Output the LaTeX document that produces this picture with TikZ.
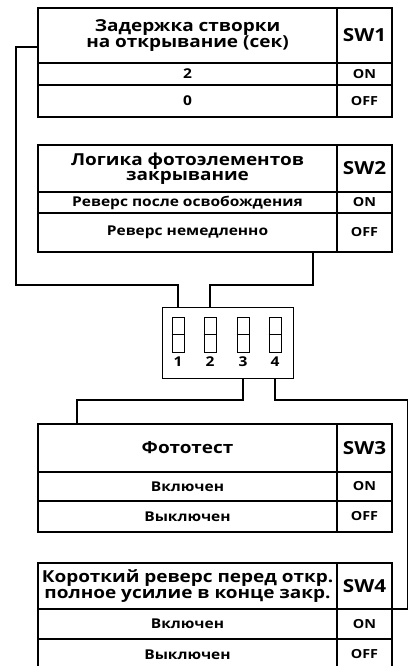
\documentclass[tikz,border=0pt]{standalone}
\usepackage{fontspec}
\setmainfont{Open Sans}[FakeStretch=1.15]
\usetikzlibrary{calc, positioning}

\begin{document}
\begin{tikzpicture}[
    x=1pt, y=-1pt,
    wire/.style={line width=1.3pt},
    cell/.style={draw, line width=1.3pt, minimum width=299pt, inner sep=0pt, outer sep=0pt, align=center, font=\bfseries\fontsize{13.5}{14}\selectfont},
    swcell/.style={draw, line width=1.3pt, minimum width=55pt, inner sep=0pt, outer sep=0pt, font=\bfseries\fontsize{12.5}{13}\selectfont},
    head/.style={cell, font=\bfseries\fontsize{16.5}{15.5}\selectfont},
    swhead/.style={swcell, font=\bfseries\fontsize{18}{18}\selectfont},
    key/.style={draw, line width=1pt, minimum width=12pt, minimum height=35pt, inner sep=0pt}
]
    \path[use as bounding box, clip] (0,0) rectangle (409,666);

    % SW1 table
    \node[head, minimum height=55pt, anchor=north west] (t1h) at (38,8) {Задержка створки\\на открывание (сек)};
    \node[swhead, minimum height=55pt, right=0pt of t1h] (t1s) {SW1};
    \node[cell, minimum height=22pt, below=0pt of t1h, font=\bfseries\fontsize{13.5}{14}\selectfont] (t1a) {2};
    \node[swcell, minimum height=22pt, right=0pt of t1a] (t1on) {ON};
    \node[cell, minimum height=32pt, below=0pt of t1a, font=\bfseries\fontsize{13.5}{14}\selectfont] (t1b) {0};
    \node[swcell, minimum height=32pt, right=0pt of t1b] (t1off) {OFF};

    % SW2 table
    \node[head, minimum height=47pt, anchor=north west] (t2h) at (38,145) {Логика фотоэлементов\\закрывание};
    \node[swhead, minimum height=47pt, right=0pt of t2h] (t2s) {SW2};
    \node[cell, minimum height=21pt, below=0pt of t2h] (t2a) {Реверс после освобождения};
    \node[swcell, minimum height=21pt, right=0pt of t2a] (t2on) {ON};
    \node[cell, minimum height=39pt, below=0pt of t2a] (t2b) {Реверс немедленно};
    \node[swcell, minimum height=39pt, right=0pt of t2b] (t2off) {OFF};

    % DIP switch block
    \node[draw, line width=1.3pt, minimum width=131pt, minimum height=71pt, inner sep=0pt, anchor=north west] (dip) at (162,307) {};
    \foreach \i/\x in {1/178, 2/210, 3/243, 4/275} {
        \node[key] (s\i) at (\x,334.5) {};
        \draw[line width=1pt] (s\i.west) -- (s\i.east);
        \node[font=\bfseries\fontsize{13.5}{13}\selectfont, inner sep=0pt] (n\i) at (\x,362) {\i};
    }

    % SW3 table
    \node[head, minimum height=48pt, anchor=north west] (t3h) at (38,424) {Фототест};
    \node[swhead, minimum height=48pt, right=0pt of t3h] (t3s) {SW3};
    \node[cell, minimum height=29pt, below=0pt of t3h] (t3a) {Включен};
    \node[swcell, minimum height=29pt, right=0pt of t3a] (t3on) {ON};
    \node[cell, minimum height=31pt, below=0pt of t3a] (t3b) {Выключен};
    \node[swcell, minimum height=31pt, right=0pt of t3b] (t3off) {OFF};

    % SW4 table
    \node[head, minimum height=46pt, anchor=north west] (t4h) at (38,563) {Короткий реверс перед откр.\\полное усилие в конце закр.};
    \node[swhead, minimum height=46pt, right=0pt of t4h] (t4s) {SW4};
    \node[cell, minimum height=30pt, below=0pt of t4h] (t4a) {Включен};
    \node[swcell, minimum height=30pt, right=0pt of t4a] (t4on) {ON};
    \node[cell, minimum height=31pt, below=0pt of t4a] (t4b) {Выключен};
    \node[swcell, minimum height=31pt, right=0pt of t4b] (t4off) {OFF};

    % Wires
    \draw[wire] (t1h.north west |- 0,47) -| (16,285) -| (s1 |- dip.north);
    \draw[wire] (t2b.south -| 313,0) -- (313,285) -| (s2 |- dip.north);
    \draw[wire] (s3 |- dip.south) |- (77,400) -- (t3h.north -| 77,0);
    \draw[wire] (s4 |- dip.south) |- (407.5,400) |- (t4s.south east);

\end{tikzpicture}
\end{document}
